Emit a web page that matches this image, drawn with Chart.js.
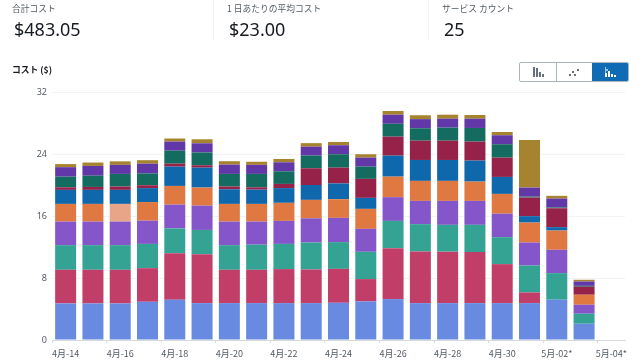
<!DOCTYPE html>
<html>
<head>
<meta charset="utf-8">
<script src="https://cdn.jsdelivr.net/npm/chart.js@4"></script>
<style>
  html, body { margin: 0; padding: 0; background: #fff; }
  body { width: 640px; height: 360px; position: relative; overflow: hidden; font-family: "Noto Sans CJK JP", "Noto Sans", sans-serif; }
  canvas { position: absolute; left: 0; top: 0; }
  .lbl { position: absolute; top: 3px; font-size: 8.75px; line-height: 12px; color: #545b64; }
  .val { position: absolute; top: 16px; font-family: "Noto Sans", sans-serif; font-size: 18px; line-height: 26px; color: #16191f; }
  .sep { position: absolute; top: 0; width: 1px; height: 40px; background: #f2f3f3; }
  .title { position: absolute; left: 12px; top: 63px; font-size: 8.75px; line-height: 13px; font-weight: 700; color: #16191f; }
  .btns { position: absolute; left: 519px; top: 62px; width: 110px; height: 20px; display: flex; box-sizing: border-box; border: 1px solid #aab7b8; border-radius: 2px; overflow: hidden; }
  .btns div { height: 100%; display: flex; align-items: center; justify-content: center; }
  .btns div + div { border-left: 1px solid #aab7b8; }
  .btns .on { background: #0f6cb4; border-left: none; }
</style>
</head>
<body>
<canvas id="kostenChart" width="640" height="360"></canvas>

<div class="lbl" style="left:12px">合計コスト</div>
<div class="val" style="left:14px">$483.05</div>
<div class="sep" style="left:213px"></div>
<div class="lbl" style="left:227px">1 日あたりの平均コスト</div>
<div class="val" style="left:229px">$23.00</div>
<div class="sep" style="left:428px"></div>
<div class="lbl" style="left:442px">サービス カウント</div>
<div class="val" style="left:444px">25</div>
<div class="title">コスト ($)</div>

<div class="btns">
  <div style="width:37px"><svg width="12" height="10"><path d="M1 0h2v10H1zM4 1h2v9H4zM7 5h2v5H7zM10 7h2v3h-2z" fill="#687078"/></svg></div>
  <div style="width:36px"><svg width="12" height="10"><path d="M1 7h2v2H1zM4 4h2v2H4zM6 7h2v2H6zM9 2h2v2H9z" fill="#687078"/></svg></div>
  <div class="on" style="width:37px"><svg width="12" height="10"><path d="M1 6h2v4H1zM4 4h2v6H4zM7 7h2v3H7zM10 8h2v2h-2z" fill="#fff"/><path d="M1 0h1v6H1zM2 2h2v2H2z" fill="#9cc3e0"/></svg></div>
</div>

<script>
// dagen op de x-as
const dagen = ['4月-14','4月-15','4月-16','4月-17','4月-18','4月-19','4月-20','4月-21','4月-22','4月-23','4月-24','4月-25','4月-26','4月-27','4月-28','4月-29','4月-30','5月-01','5月-02*','5月-03','5月-04*'];
const yTicks = [0, 8, 16, 24, 32];

// kosten per dienst, van onder naar boven
const dienst1 = [4.72,4.72,4.72,4.93,5.20,4.76,4.76,4.76,4.76,4.76,4.80,4.98,5.28,4.76,4.76,4.76,4.76,4.76,5.20,2.10,0];
const dienst2 = [4.34,4.34,4.34,4.34,6.00,6.32,4.30,4.30,4.39,4.34,4.38,2.88,6.57,6.66,6.64,6.58,5.03,1.37,0,0,0];
const dienst3 = [3.18,3.18,3.18,3.13,3.20,3.12,3.18,3.24,3.25,3.48,3.45,3.52,3.52,3.53,3.46,3.52,3.48,3.48,3.43,1.29,0];
const dienst4 = [3.04,3.04,3.04,3.00,3.07,3.14,3.04,2.98,2.97,3.12,3.13,2.96,3.06,3.00,3.09,3.09,3.03,2.97,3.01,1.16,0];
const dienst5 = [2.28,2.28,2.28,2.40,2.41,2.33,2.28,2.28,2.33,2.38,2.41,2.58,2.65,2.58,2.58,2.49,2.55,2.57,2.48,1.29,0];
const dienst6 = [1.81,1.81,1.81,1.80,2.49,2.57,1.89,1.84,1.90,1.92,2.03,1.42,2.71,2.70,2.70,2.71,2.19,0.83,0.44,0,0];
const dienst7 = [0.33,0.38,0.43,0.37,0.38,0.31,0.35,0.30,0.54,2.16,2.04,2.45,2.45,2.49,2.49,2.45,2.49,2.40,2.44,1.03,0];
const dienst8 = [1.38,1.45,1.63,1.53,1.68,1.65,1.63,1.73,1.63,1.64,1.73,1.58,1.66,1.60,1.68,1.76,1.73,0.12,0.10,0.12,0];
const dienst9 = [1.22,1.26,1.17,1.25,1.17,1.18,1.20,1.17,1.16,1.15,1.16,1.16,1.17,1.18,1.16,1.20,1.16,1.17,1.15,0.56,0];
const dienst10 = [0.40,0.44,0.45,0.45,0.40,0.52,0.44,0.40,0.43,0.45,0.42,0.44,0.48,0.50,0.51,0.47,0.42,6.13,0.35,0.22,0];

// index 2 van dienst5 is lichter in het origineel
const kleurDienst5 = dagen.map((d, i) => i === 2 ? '#e8a587' : '#e07941');

const ctx = document.getElementById('kostenChart').getContext('2d');
const kostenChart = new Chart(ctx, {
  type: 'bar',
  data: {
    labels: dagen,
    datasets: [
      { label: 'dienst1', data: dienst1, backgroundColor: '#688ae0' },
      { label: 'dienst2', data: dienst2, backgroundColor: '#c13e69' },
      { label: 'dienst3', data: dienst3, backgroundColor: '#35a394' },
      { label: 'dienst4', data: dienst4, backgroundColor: '#8456ca' },
      { label: 'dienst5', data: dienst5, backgroundColor: kleurDienst5 },
      { label: 'dienst6', data: dienst6, backgroundColor: '#0f67ac' },
      { label: 'dienst7', data: dienst7, backgroundColor: '#962249' },
      { label: 'dienst8', data: dienst8, backgroundColor: '#146b5f' },
      { label: 'dienst9', data: dienst9, backgroundColor: '#6237a7' },
      { label: 'dienst10', data: dienst10, backgroundColor: '#a6842f' }
    ]
  },
  options: {
    responsive: false,
    animation: false,
    layout: { padding: { top: 92, right: 15, left: 0, bottom: 0 } },
    plugins: { legend: { display: false }, tooltip: { enabled: false } },
    datasets: { bar: { categoryPercentage: 1, barPercentage: 0.77 } },
    scales: {
      x: {
        stacked: true,
        afterFit: function (s) { s.height = 20; },
        grid: {
          color: 'transparent',
          tickColor: function (c) { return c.index % 2 === 0 ? '#d5dbdb' : 'transparent'; },
          tickLength: 3
        },
        border: { color: '#d5dbdb' },
        ticks: {
          autoSkip: false,
          maxRotation: 0,
          padding: 5,
          color: '#545b64',
          font: { family: '"Noto Sans CJK JP"', size: 9 },
          callback: function (v, i) { return i % 2 === 0 ? dagen[i] : ''; }
        }
      },
      y: {
        stacked: true,
        min: 0,
        max: 32,
        afterFit: function (s) { s.width = 52; },
        afterBuildTicks: function (s) { s.ticks = yTicks.map(v => ({ value: v })); },
        grid: { color: '#f2f3f3', drawTicks: false },
        border: { display: false },
        ticks: {
          padding: 5,
          color: '#545b64',
          font: { family: '"Noto Sans"', size: 9 }
        }
      }
    }
  }
});
</script>
</body>
</html>
